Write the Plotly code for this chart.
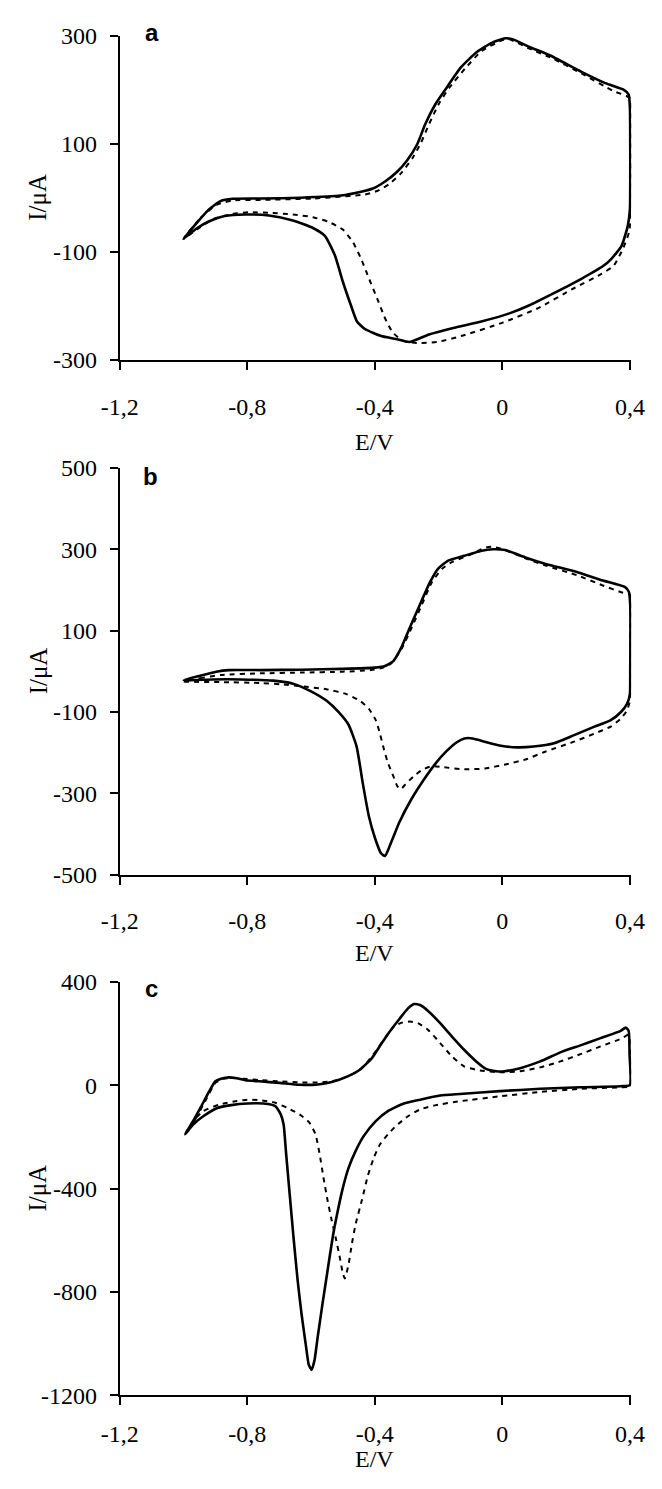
import plotly.graph_objects as go

# ---------------- data (E in V, I in µA) ----------------
# Panel a
E_a_solid = [-1.0, -0.959, -0.921, -0.883, -0.846, -0.758, -0.632, -0.506, -0.443, -0.406, -0.368,
             -0.330, -0.299, -0.267, -0.242, -0.211, -0.179, -0.129, -0.079, -0.029, 0.009, 0.034,
             0.085, 0.147, 0.248, 0.323, 0.380, 0.396, 0.400, 0.401, 0.400, 0.393, 0.374, 0.342,
             0.317, 0.248, 0.160, 0.085, 0.022, -0.066, -0.154, -0.230, -0.292, -0.330, -0.380,
             -0.431, -0.456, -0.475, -0.500, -0.525, -0.556, -0.594, -0.657, -0.732, -0.808,
             -0.871, -0.921, -0.959, -1.0]
I_a_solid = [-76, -47, -22, -6, -2, -1.5, 0, 4, 11, 17, 30,
             48, 69, 99, 136, 172, 200, 242, 270, 288, 295, 293,
             279, 264, 233, 212, 200, 191, 166, 99, -22, -53, -89, -113,
             -126, -150, -177, -199, -214, -229, -241, -253, -267, -262, -256,
             -243, -229, -199, -156, -107, -71, -56, -42, -33, -31,
             -34, -44, -57, -76]

E_a_dash = [-1.0, -0.946, -0.896, -0.846, -0.758, -0.594, -0.431, -0.393, -0.355, -0.318, -0.280,
            -0.255, -0.230, -0.198, -0.167, -0.117, -0.066, -0.003, 0.022, 0.085, 0.160, 0.248,
            0.349, 0.400, 0.401, 0.399, 0.380, 0.349, 0.311, 0.223, 0.110, -0.003, -0.129,
            -0.204, -0.267, -0.311, -0.343, -0.368, -0.393, -0.418, -0.443, -0.468, -0.500,
            -0.544, -0.594, -0.657, -0.732, -0.795, -0.846, -0.908, -0.959, -1.0]
I_a_dash = [-76, -37, -13, -5, -4, -1.5, 6, 12.5, 25, 45, 75,
            102, 136, 175, 203, 239, 271, 291, 293, 276, 257, 230,
            197, 184, 0, -60, -92, -126, -141, -168, -205, -232, -256,
            -267, -269, -265, -250, -223, -186, -150, -113, -83, -59,
            -45, -36, -31, -28, -27, -30, -40, -59, -76]

# Panel b
E_b_solid = [-0.999, -0.948, -0.897, -0.858, -0.756, -0.629, -0.501, -0.399, -0.368, -0.342, -0.317,
             -0.291, -0.259, -0.227, -0.202, -0.170, -0.119, -0.068, -0.030, 0.009, 0.072, 0.136,
             0.238, 0.315, 0.385, 0.397, 0.401, 0.401, 0.400, 0.391, 0.372, 0.340, 0.289, 0.225,
             0.162, 0.098, 0.047, -0.004, -0.055, -0.093, -0.119, -0.144, -0.176, -0.208, -0.246,
             -0.285, -0.323, -0.348, -0.368, -0.380, -0.399, -0.419, -0.438, -0.457, -0.482,
             -0.514, -0.552, -0.603, -0.654, -0.718, -0.820, -0.909, -0.999]
I_b_solid = [-22, -11, -1, 3, 3, 4, 6, 9, 13, 25, 58,
             106, 163, 219, 252, 272, 284, 296, 300, 298, 280, 264,
             243, 223, 207, 195, 163, 1, -56, -80, -100, -120, -136, -157,
             -177, -185, -187, -183, -173, -165, -165, -175, -197, -225, -266,
             -314, -371, -419, -454, -448, -411, -355, -274, -185, -132,
             -100, -72, -48, -31, -23, -20, -20, -22]

E_b_dash = [-0.999, -0.948, -0.884, -0.756, -0.629, -0.501, -0.412, -0.374, -0.348, -0.317, -0.285,
            -0.253, -0.221, -0.189, -0.157, -0.106, -0.055, -0.030, 0.009, 0.072, 0.136, 0.238,
            0.315, 0.378, 0.400, 0.401, 0.400, 0.391, 0.372, 0.340, 0.289, 0.225, 0.136, 0.072,
            0.009, -0.055, -0.119, -0.183, -0.221, -0.253, -0.278, -0.304, -0.319, -0.329, -0.342,
            -0.359, -0.371, -0.384, -0.397, -0.419, -0.444, -0.489, -0.552, -0.629, -0.693,
            -0.756, -0.884, -0.999]
I_b_dash = [-25, -17, -9, -5, -3, -1, 3, 9, 20, 54, 106,
            163, 219, 252, 269, 285, 304, 306, 298, 278, 260, 235,
            211, 193, 188, 82, -72, -96, -116, -136, -153, -173, -197, -217,
            -229, -239, -241, -236, -233, -243, -258, -278, -290, -283, -258,
            -225, -193, -153, -120, -92, -74, -56, -44, -37, -32,
            -29, -26.5, -25]

# Panel c
E_c_solid = [-0.995, -0.970, -0.944, -0.919, -0.900, -0.882, -0.863, -0.837, -0.806, -0.762, -0.699,
             -0.636, -0.586, -0.535, -0.485, -0.447, -0.409, -0.378, -0.353, -0.321, -0.296, -0.277,
             -0.258, -0.233, -0.195, -0.158, -0.120, -0.082, -0.051, -0.019, 0.006, 0.056, 0.119,
             0.182, 0.245, 0.308, 0.371, 0.387, 0.396, 0.399, 0.400,
             0.371, 0.245, 0.119, -0.007, -0.133, -0.195, -0.258, -0.309, -0.359, -0.397, -0.435,
             -0.460, -0.482, -0.500, -0.516, -0.532, -0.548, -0.564, -0.579, -0.589, -0.598,
             -0.607, -0.617, -0.630, -0.642, -0.655, -0.667, -0.678, -0.686, -0.695, -0.712,
             -0.749, -0.800, -0.850, -0.894, -0.938, -0.970, -0.995]
I_c_solid = [-190, -139, -81, -23, 15, 25, 30, 28, 19, 15, 9,
             2, 2, 12.5, 34, 60, 105, 163, 208, 259, 297, 314,
             310, 287, 240, 188, 137, 92, 63, 54, 54, 66, 92,
             127, 154, 182, 210, 223, 210, 118, 0,
             -4, -8, -14, -23, -34, -40, -56, -71, -100, -139, -197,
             -254, -319, -396, -485, -588, -716, -845, -973, -1063, -1101,
             -1082, -999, -883, -755, -588, -421, -267, -152, -113, -81,
             -71, -71, -77, -88, -120, -152, -190]

E_c_dash = [-0.995, -0.963, -0.932, -0.900, -0.875, -0.850, -0.812, -0.762, -0.699, -0.636, -0.573,
            -0.523, -0.472, -0.435, -0.397, -0.365, -0.340, -0.315, -0.290, -0.265, -0.233, -0.195,
            -0.158, -0.120, -0.070, -0.007, 0.056, 0.119, 0.182, 0.245, 0.308, 0.371, 0.396,
            0.400, 0.400,
            0.371, 0.245, 0.119, -0.007, -0.133, -0.208, -0.258, -0.296, -0.334, -0.359, -0.384,
            -0.403, -0.422, -0.441, -0.460, -0.472, -0.482, -0.494, -0.500, -0.510, -0.523,
            -0.535, -0.548, -0.561, -0.573, -0.586, -0.605, -0.636, -0.674, -0.712, -0.762,
            -0.800, -0.837, -0.888, -0.938, -0.970, -0.995]
I_c_dash = [-190, -132, -62, 9, 25, 28, 25, 20, 15, 11, 11,
            18, 41, 73, 131, 188, 227, 242, 246, 240, 214, 163,
            111, 73, 57, 50, 54, 69, 92, 120, 150, 179, 195,
            118, -4,
            -8, -14, -26, -43, -62, -77, -94, -120, -158, -190, -229,
            -280, -351, -447, -537, -614, -691, -748, -729, -665, -588,
            -524, -447, -357, -267, -190, -145, -113, -88, -68, -58,
            -56, -62, -75, -100, -139, -190]

x_tick_vals = [-1.2, -0.8, -0.4, 0, 0.4]
x_tick_text = ["-1,2", "-0,8", "-0,4", "0", "0,4"]
y_ticks_a = [-300, -100, 100, 300]
y_ticks_b = [-500, -300, -100, 100, 300, 500]
y_ticks_c = [-1200, -800, -400, 0, 400]
panel_labels = ["a", "b", "c"]

# ---------------- layout geometry (pixels) ----------------
W, H = 662, 1489
x_left_px, x_right_px = 106, 644.3
panels_px = [(23, 353), (463, 877), (986, 1407)]
y_ranges = [(-300, 300), (-500, 500), (-1200, 400)]

def py(p):
    return 1 - p / H

fig = go.Figure()
series = [
    (E_a_solid, I_a_solid, E_a_dash, I_a_dash),
    (E_b_solid, I_b_solid, E_b_dash, I_b_dash),
    (E_c_solid, I_c_solid, E_c_dash, I_c_dash),
]
for k, (es, is_, ed, id_) in enumerate(series):
    xa = "x" if k == 0 else f"x{k+1}"
    ya = "y" if k == 0 else f"y{k+1}"
    fig.add_trace(go.Scatter(x=ed, y=id_, mode="lines", xaxis=xa, yaxis=ya,
                             line=dict(color="black", width=2, dash="5px,5px",
                                       shape="spline", smoothing=0.5),
                             showlegend=False, hoverinfo="skip"))
    fig.add_trace(go.Scatter(x=es, y=is_, mode="lines", xaxis=xa, yaxis=ya,
                             line=dict(color="black", width=2.6,
                                       shape="spline", smoothing=0.5),
                             showlegend=False, hoverinfo="skip"))

tick_font = dict(family="Liberation Serif", size=24, color="black")
y_tick_lists = [y_ticks_a, y_ticks_b, y_ticks_c]
standoffs = [16, 16, 8]
layout = dict(width=W, height=H, margin=dict(l=0, r=0, t=0, b=0),
              paper_bgcolor="white", plot_bgcolor="white")
for k in range(3):
    top, bot = panels_px[k]
    xkey = "xaxis" if k == 0 else f"xaxis{k+1}"
    ykey = "yaxis" if k == 0 else f"yaxis{k+1}"
    anchor_y = "y" if k == 0 else f"y{k+1}"
    anchor_x = "x" if k == 0 else f"x{k+1}"
    layout[xkey] = dict(domain=[x_left_px / W, x_right_px / W], range=[-1.2, 0.404],
                        anchor=anchor_y, showline=True, linecolor="black", linewidth=2,
                        ticks="outside", ticklen=8, tickwidth=2, tickcolor="black",
                        tickvals=x_tick_vals, ticktext=x_tick_text, tickfont=tick_font,
                        ticklabelstandoff=standoffs[k],
                        showgrid=False, zeroline=False)
    layout[ykey] = dict(domain=[py(bot), py(top)], range=list(y_ranges[k]),
                        anchor=anchor_x, showline=True, linecolor="black", linewidth=2,
                        ticks="outside", ticklen=8, tickwidth=2, tickcolor="black",
                        tickvals=y_tick_lists[k], ticktext=[str(v) for v in y_tick_lists[k]],
                        tickfont=tick_font, ticklabelstandoff=8,
                        showgrid=False, zeroline=False)
fig.update_layout(**layout)

annotations = []
ev_y = [437, 957, 1472]
letter_pos = [(140, 20), (138, 472), (139, 993)]
for k in range(3):
    top, bot = panels_px[k]
    annotations.append(dict(text="I/\u03bcA", xref="paper", yref="paper", x=20 / W,
                            y=py((top + bot) / 2), textangle=-90, showarrow=False,
                            xanchor="center", yanchor="middle",
                            font=dict(family="Liberation Serif", size=25, color="black")))
    annotations.append(dict(text="E/V", xref="paper", yref="paper", x=374 / W,
                            y=py(ev_y[k]), showarrow=False, xanchor="center", yanchor="middle",
                            font=dict(family="Liberation Serif", size=24, color="black")))
    lx, ly = letter_pos[k]
    annotations.append(dict(text="<b>" + panel_labels[k] + "</b>", xref="paper", yref="paper",
                            x=lx / W, y=py(ly), showarrow=False, xanchor="center",
                            yanchor="middle",
                            font=dict(family="Liberation Sans", size=24, color="black")))
fig.update_layout(annotations=annotations)

fig.write_html("out.html", config={"displayModeBar": False},
               post_script="document.body.style.margin='0px';")
